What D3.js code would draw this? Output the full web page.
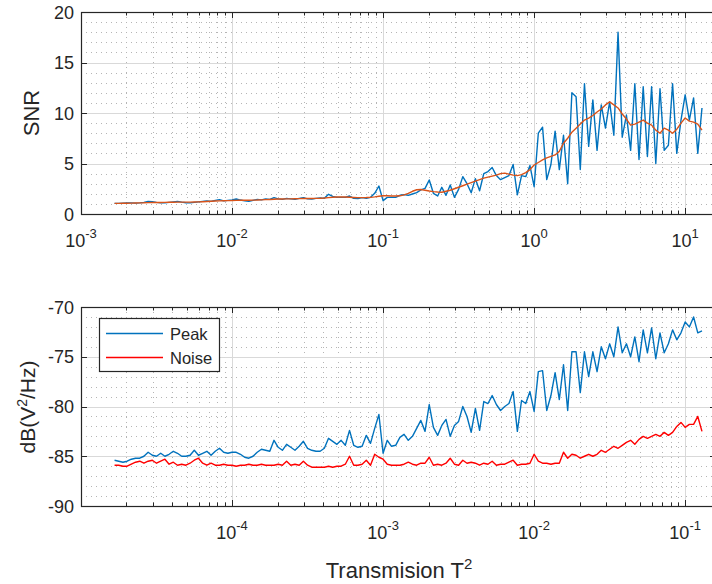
<!DOCTYPE html>
<html><head><meta charset="utf-8">
<script src="https://cdn.jsdelivr.net/npm/d3@7"></script>
<style>
body{margin:0;background:#fff}
svg{display:block}
text{font-family:"Liberation Sans",Arial,Helvetica,sans-serif;fill:#262626}
</style>
</head><body>
<svg id="c" width="712" height="584"></svg>
<script>
// ---------------- data ----------------
// Transmission T^2 (bottom x axis)
const t2 = [
1.668e-5,1.778e-5,1.896e-5,2.021e-5,2.154e-5,2.297e-5,2.448e-5,2.610e-5,2.783e-5,2.967e-5,3.162e-5,3.371e-5,3.594e-5,3.831e-5,4.084e-5,4.354e-5,4.642e-5,4.948e-5,5.275e-5,5.623e-5,5.995e-5,6.391e-5,6.813e-5,7.264e-5,7.743e-5,8.255e-5,8.801e-5,9.383e-5,
1.000e-4,1.066e-4,1.137e-4,1.212e-4,1.292e-4,1.377e-4,1.468e-4,1.565e-4,1.668e-4,1.778e-4,1.896e-4,2.021e-4,2.154e-4,2.297e-4,2.448e-4,2.610e-4,2.783e-4,2.967e-4,3.162e-4,3.371e-4,3.594e-4,3.831e-4,4.084e-4,4.354e-4,4.642e-4,4.948e-4,5.275e-4,5.623e-4,5.995e-4,6.391e-4,6.813e-4,7.264e-4,7.743e-4,8.255e-4,8.801e-4,9.383e-4,
1.000e-3,1.066e-3,1.137e-3,1.212e-3,1.292e-3,1.377e-3,1.468e-3,1.565e-3,1.668e-3,1.778e-3,1.896e-3,2.021e-3,2.154e-3,2.297e-3,2.448e-3,2.610e-3,2.783e-3,2.967e-3,3.162e-3,3.371e-3,3.594e-3,3.831e-3,4.084e-3,4.354e-3,4.642e-3,4.948e-3,5.275e-3,5.623e-3,5.995e-3,6.391e-3,6.813e-3,7.264e-3,7.743e-3,8.255e-3,8.801e-3,9.383e-3,
1.000e-2,1.066e-2,1.137e-2,1.212e-2,1.292e-2,1.377e-2,1.468e-2,1.565e-2,1.668e-2,1.778e-2,1.896e-2,2.021e-2,2.154e-2,2.297e-2,2.448e-2,2.610e-2,2.783e-2,2.967e-2,3.162e-2,3.371e-2,3.594e-2,3.831e-2,4.084e-2,4.354e-2,4.642e-2,4.948e-2,5.275e-2,5.623e-2,5.995e-2,6.391e-2,6.813e-2,7.264e-2,7.743e-2,8.255e-2,8.801e-2,9.383e-2,
0.1000,0.1066,0.1137,0.1212,0.1292];

// top panel x values
const snrX = [
1.668e-3,1.778e-3,1.896e-3,2.021e-3,2.154e-3,2.297e-3,2.448e-3,2.610e-3,2.783e-3,2.967e-3,3.162e-3,3.371e-3,3.594e-3,3.831e-3,4.084e-3,4.354e-3,4.642e-3,4.948e-3,5.275e-3,5.623e-3,5.995e-3,6.391e-3,6.813e-3,7.264e-3,7.743e-3,8.255e-3,8.801e-3,9.383e-3,
1.000e-2,1.066e-2,1.137e-2,1.212e-2,1.292e-2,1.377e-2,1.468e-2,1.565e-2,1.668e-2,1.778e-2,1.896e-2,2.021e-2,2.154e-2,2.297e-2,2.448e-2,2.610e-2,2.783e-2,2.967e-2,3.162e-2,3.371e-2,3.594e-2,3.831e-2,4.084e-2,4.354e-2,4.642e-2,4.948e-2,5.275e-2,5.623e-2,5.995e-2,6.391e-2,6.813e-2,7.264e-2,7.743e-2,8.255e-2,8.801e-2,9.383e-2,
0.1000,0.1066,0.1137,0.1212,0.1292,0.1377,0.1468,0.1565,0.1668,0.1778,0.1896,0.2021,0.2154,0.2297,0.2448,0.2610,0.2783,0.2967,0.3162,0.3371,0.3594,0.3831,0.4084,0.4354,0.4642,0.4948,0.5275,0.5623,0.5995,0.6391,0.6813,0.7264,0.7743,0.8255,0.8801,0.9383,
1.000,1.066,1.137,1.212,1.292,1.377,1.468,1.565,1.668,1.778,1.896,2.021,2.154,2.297,2.448,2.610,2.783,2.967,3.162,3.371,3.594,3.831,4.084,4.354,4.642,4.948,5.275,5.623,5.995,6.391,6.813,7.264,7.743,8.255,8.801,9.383,
10.00,10.66,11.37,12.12,12.92];

const snr = [
1.05,1.05,1.08,1.10,1.10,1.08,1.10,1.15,1.25,1.22,
1.15,1.12,1.10,1.15,1.20,1.25,1.18,1.12,1.10,1.15,
1.20,1.25,1.30,1.25,1.35,1.42,1.30,1.35,1.40,1.48,
1.38,1.30,1.25,1.35,1.45,1.40,1.50,1.45,1.62,1.50,
1.45,1.55,1.50,1.45,1.55,1.62,1.50,1.48,1.55,1.60,
1.55,1.95,1.75,1.65,1.65,1.65,1.78,1.55,1.52,1.62,
1.55,1.65,2.05,2.77,1.32,1.65,1.65,1.65,1.85,1.92,
1.85,1.98,2.11,2.38,2.54,3.37,2.05,1.78,2.64,1.85,
2.87,1.65,2.44,3.70,3.00,2.10,3.50,2.30,4.00,4.20,
4.60,3.80,3.40,3.60,3.80,4.90,1.90,3.80,3.70,4.80,
2.7,8.0,8.6,3.4,4.9,8.2,4.4,7.8,3.0,12.0,
11.6,4.4,12.9,6.7,11.3,6.3,10.8,8.5,11.1,7.8,
18.0,7.6,9.8,6.3,12.9,5.4,12.6,5.7,12.6,5.0,
12.4,6.3,6.8,12.9,6.0,9.3,11.8,9.3,11.5,6.0,
10.5];

const snrSmooth = [
1.05,1.05,1.06,1.07,1.08,1.09,1.10,1.11,1.13,1.14,
1.14,1.14,1.15,1.16,1.17,1.18,1.18,1.18,1.18,1.19,
1.20,1.22,1.24,1.26,1.28,1.30,1.31,1.32,1.33,1.35,
1.36,1.36,1.36,1.37,1.38,1.40,1.42,1.44,1.46,1.48,
1.49,1.50,1.50,1.51,1.52,1.53,1.53,1.54,1.55,1.56,
1.58,1.62,1.66,1.68,1.68,1.68,1.66,1.64,1.62,1.62,
1.63,1.65,1.70,1.76,1.80,1.80,1.78,1.78,1.80,1.90,
2.05,2.25,2.40,2.42,2.35,2.28,2.22,2.18,2.15,2.25,
2.35,2.50,2.65,2.80,2.95,3.10,3.25,3.40,3.55,3.65,
3.75,3.85,4.00,4.05,3.95,3.85,3.80,3.90,4.10,4.40,
4.85,5.10,5.35,5.55,5.70,5.85,6.20,7.00,7.50,8.10,
8.50,8.90,9.30,9.50,9.75,10.1,10.4,10.8,11.1,10.8,
10.5,9.9,9.4,8.8,8.9,9.1,9.3,9.0,8.8,8.3,
8.0,8.5,8.3,8.0,8.4,9.0,9.5,9.2,9.1,8.9,
8.3];

const peak = [
-85.4,-85.5,-85.6,-85.5,-85.3,-85.2,-85.2,-85.0,-84.6,-84.9,
-85.0,-84.7,-85.0,-84.8,-84.5,-84.7,-85.0,-85.0,-84.9,-84.4,
-84.9,-84.7,-84.5,-84.9,-84.5,-84.2,-84.6,-84.7,-84.6,-84.6,
-84.8,-85.1,-85.2,-85.0,-84.6,-84.3,-84.4,-84.5,-83.4,-84.1,
-84.4,-83.8,-84.1,-84.4,-84.0,-83.5,-84.2,-84.4,-84.5,-84.5,
-84.2,-83.2,-83.5,-83.8,-83.4,-83.9,-82.4,-83.9,-84.1,-84.0,
-82.9,-83.7,-82.2,-80.8,-84.7,-83.4,-84.0,-83.9,-83.1,-82.8,
-83.4,-83.0,-82.2,-81.4,-82.5,-79.8,-82.1,-82.9,-81.9,-81.3,
-83.0,-81.9,-81.5,-80.0,-81.0,-82.6,-80.2,-82.4,-79.5,-79.7,
-78.9,-79.8,-80.4,-80.0,-79.7,-78.5,-82.5,-79.4,-79.7,-78.5,
-80.5,-76.5,-76.4,-80.4,-78.9,-76.6,-79.3,-75.8,-80.4,-74.5,
-74.5,-78.6,-74.5,-77.0,-74.5,-76.5,-74.0,-75.2,-73.7,-75.0,
-72.0,-74.6,-73.7,-75.0,-73.0,-75.5,-72.3,-74.6,-72.1,-75.2,
-72.6,-74.6,-73.7,-72.3,-73.3,-72.6,-71.5,-72.0,-71.0,-72.6,
-72.4];

const noise = [
-85.9,-85.9,-86.0,-86.0,-85.8,-85.6,-85.5,-85.7,-85.5,-85.4,
-85.7,-85.5,-85.3,-85.8,-85.6,-85.9,-85.8,-85.9,-85.7,-85.4,
-85.2,-85.7,-85.9,-85.7,-85.9,-85.9,-85.8,-85.9,-85.9,-86.0,
-85.9,-85.9,-85.8,-85.9,-85.9,-85.8,-85.9,-85.9,-85.9,-85.8,
-85.9,-85.5,-85.9,-85.8,-85.9,-85.5,-85.9,-86.1,-86.1,-86.1,
-86.1,-86.0,-86.1,-86.0,-86.0,-85.8,-85.0,-85.9,-85.9,-85.8,
-85.4,-85.9,-84.8,-85.1,-85.3,-85.8,-85.9,-85.9,-85.9,-85.8,
-85.6,-85.8,-85.9,-85.7,-85.7,-85.1,-85.9,-85.8,-85.9,-85.7,
-85.2,-85.8,-85.9,-85.4,-85.7,-85.6,-85.7,-85.9,-85.7,-85.8,
-85.5,-85.9,-85.8,-85.8,-85.6,-85.4,-85.9,-85.8,-85.8,-85.7,
-84.8,-85.5,-85.7,-85.7,-85.8,-85.7,-85.7,-84.6,-85.2,-84.8,
-84.9,-85.2,-85.0,-84.8,-85.0,-84.8,-84.4,-84.6,-84.3,-84.0,
-84.2,-83.9,-83.6,-83.4,-83.8,-83.3,-83.0,-83.2,-83.0,-82.8,
-83.0,-82.6,-82.9,-82.6,-82.0,-81.6,-82.1,-81.8,-81.8,-81.0,
-82.5];

const snrTicks = [0, 5, 10, 15, 20];
const dbTicks = [-90, -85, -80, -75, -70];
const topXTicks = [1e-3, 1e-2, 1e-1, 1e0, 1e1];
const topXExp = ["-3", "-2", "-1", "0", "1"];
const botXTicks = [1e-4, 1e-3, 1e-2, 1e-1];
const botXExp = ["-4", "-3", "-2", "-1"];
const legendNames = ["Peak", "Noise"];

// ---------------- drawing ----------------
const svg = d3.select("#c");
svg.append("rect").attr("width", 712).attr("height", 584).attr("fill", "#fff");
const L = 81, R = 716;
const INK = "#262626";
const C_BLUE = "#0072BD", C_ORANGE = "#D95319", C_RED = "#FF0000";
const px = v => Math.round(v) + 0.5;

function panel(cfg) {
  const { top, bottom, xDomain, yDomain, xTicks, xExp, yTicks, series } = cfg;
  const x = d3.scaleLog().domain(xDomain).range([L, R]);
  const y = d3.scaleLinear().domain(yDomain).range([bottom, top]);
  const g = svg.append("g");
  const cid = "clip" + top;
  svg.append("clipPath").attr("id", cid).append("rect")
    .attr("x", L).attr("y", top).attr("width", R - L).attr("height", bottom - top);

  g.append("rect").attr("x", L).attr("y", top).attr("width", R - L).attr("height", bottom - top).attr("fill", "#fff");

  const isMajor = v => Math.abs(Math.log10(v) - Math.round(Math.log10(v))) < 1e-6;
  const allX = x.ticks();
  const minorX = allX.filter(v => !isMajor(v));
  const majorX = allX.filter(isMajor);
  const minorY = d3.range(yDomain[0], yDomain[1] + 1e-9, 1).filter(v => !yTicks.includes(v));

  // minor grid (dotted)
  const mg = g.append("g").attr("stroke", "#b5b5b5").attr("stroke-width", 1).attr("stroke-dasharray", "1,4");
  mg.selectAll(null).data(minorX).join("line")
    .attr("x1", d => px(x(d))).attr("x2", d => px(x(d))).attr("y1", top).attr("y2", bottom);
  mg.selectAll(null).data(minorY).join("line")
    .attr("x1", L).attr("x2", R).attr("y1", d => px(y(d))).attr("y2", d => px(y(d)));

  // major grid
  const gg = g.append("g").attr("stroke", "#d9d9d9").attr("stroke-width", 1);
  gg.selectAll(null).data(majorX).join("line")
    .attr("x1", d => px(x(d))).attr("x2", d => px(x(d))).attr("y1", top).attr("y2", bottom);
  gg.selectAll(null).data(yTicks).join("line")
    .attr("x1", L).attr("x2", R).attr("y1", d => px(y(d))).attr("y2", d => px(y(d)));

  // data
  const dg = g.append("g").attr("clip-path", `url(#${cid})`);
  series.forEach(s => {
    const line = d3.line().x((d, i) => x(s.xs[i])).y(d => y(d));
    dg.append("path").datum(s.ys).attr("d", line).attr("fill", "none")
      .attr("stroke", s.color).attr("stroke-width", 1.4).attr("stroke-linejoin", "round");
  });

  // box
  g.append("rect").attr("x", px(L)).attr("y", px(top)).attr("width", R - L).attr("height", Math.round(bottom - top))
    .attr("fill", "none").attr("stroke", INK).attr("stroke-width", 1.2);

  // ticks
  const tg = g.append("g").attr("stroke", INK).attr("stroke-width", 1);
  tg.selectAll(null).data(majorX).join("line")
    .attr("x1", d => px(x(d))).attr("x2", d => px(x(d))).attr("y1", bottom).attr("y2", bottom - 6);
  tg.selectAll(null).data(majorX).join("line")
    .attr("x1", d => px(x(d))).attr("x2", d => px(x(d))).attr("y1", top).attr("y2", top + 6);
  tg.selectAll(null).data(minorX).join("line")
    .attr("x1", d => px(x(d))).attr("x2", d => px(x(d))).attr("y1", bottom).attr("y2", bottom - 3.5);
  tg.selectAll(null).data(minorX).join("line")
    .attr("x1", d => px(x(d))).attr("x2", d => px(x(d))).attr("y1", top).attr("y2", top + 3.5);
  tg.selectAll(null).data(yTicks).join("line")
    .attr("x1", L).attr("x2", L + 6).attr("y1", d => px(y(d))).attr("y2", d => px(y(d)));
  tg.selectAll(null).data(yTicks).join("line")
    .attr("x1", R).attr("x2", R - 6).attr("y1", d => px(y(d))).attr("y2", d => px(y(d)));

  // y tick labels
  g.selectAll(null).data(yTicks).join("text")
    .attr("x", 74).attr("y", d => y(d) + 6.5).attr("text-anchor", "end")
    .attr("font-size", 18).text(d => d);

  // x tick labels
  xTicks.forEach((t, i) => {
    const tx = g.append("text").attr("x", x(t)).attr("y", bottom + 33)
      .attr("text-anchor", "middle").attr("font-size", 18);
    tx.append("tspan").text("10");
    tx.append("tspan").attr("dy", -9).attr("font-size", 13).text(xExp[i]);
  });
  return { x, y, g };
}

const topP = panel({
  top: 12, bottom: 214, xDomain: [1e-3, 16], yDomain: [0, 20],
  xTicks: topXTicks, xExp: topXExp, yTicks: snrTicks,
  series: [
    { xs: snrX, ys: snr, color: C_BLUE },
    { xs: snrX, ys: snrSmooth, color: C_ORANGE }
  ]
});

const botP = panel({
  top: 307, bottom: 506, xDomain: [1e-5, 0.16], yDomain: [-90, -70],
  xTicks: botXTicks, xExp: botXExp, yTicks: dbTicks,
  series: [
    { xs: t2, ys: peak, color: C_BLUE },
    { xs: t2, ys: noise, color: C_RED }
  ]
});

// axis labels
svg.append("text").attr("transform", "translate(39,113) rotate(-90)")
  .attr("text-anchor", "middle").attr("font-size", 22).text("SNR");

const yl = svg.append("text").attr("transform", "translate(35,407) rotate(-90)")
  .attr("text-anchor", "middle").attr("font-size", 21);
yl.append("tspan").text("dB(V");
yl.append("tspan").attr("dy", -8).attr("font-size", 14).text("2");
yl.append("tspan").attr("dy", 8).text("/Hz)");

const xl = svg.append("text").attr("x", 399).attr("y", 578)
  .attr("text-anchor", "middle").attr("font-size", 22);
xl.append("tspan").text("Transmision T");
xl.append("tspan").attr("dy", -9).attr("font-size", 15).text("2");

// legend
const lg = svg.append("g");
lg.append("rect").attr("x", 99.5).attr("y", 318.5).attr("width", 120).attr("height", 53)
  .attr("fill", "#fff").attr("stroke", INK).attr("stroke-width", 1.2);
const legendColors = [C_BLUE, C_RED];
legendNames.forEach((n, i) => {
  const ly = 333.5 + i * 24;
  lg.append("line").attr("x1", 106).attr("x2", 163).attr("y1", ly).attr("y2", ly)
    .attr("stroke", legendColors[i]).attr("stroke-width", 1.4);
  lg.append("text").attr("x", 170).attr("y", ly + 6.5).attr("font-size", 16.5).text(n);
});
</script>
</body></html>
